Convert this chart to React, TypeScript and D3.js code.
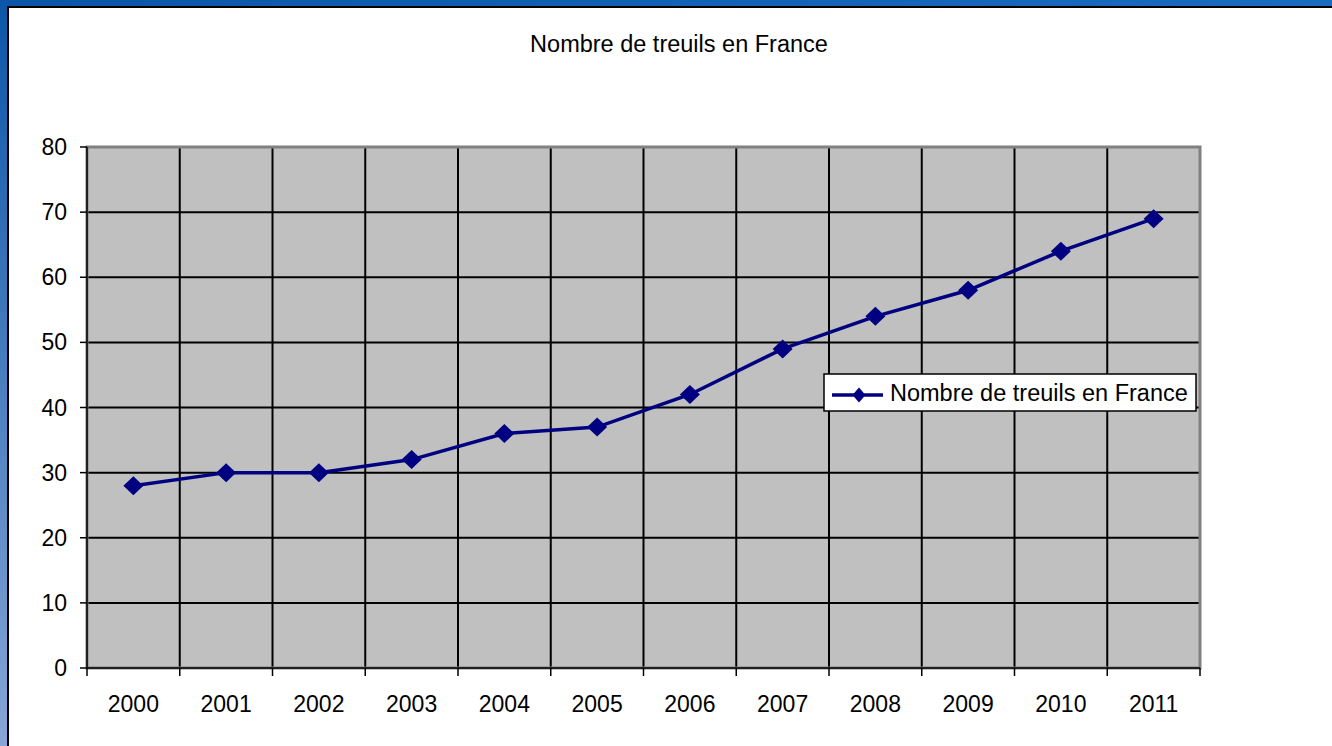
import React from "react";
import * as d3 from "d3";

const TITLE = "Nombre de treuils en France";
const SERIES_NAME = "Nombre de treuils en France";
const years = ["2000","2001","2002","2003","2004","2005","2006","2007","2008","2009","2010","2011"];
const values = [28, 30, 30, 32, 36, 37, 42, 49, 54, 58, 64, 69];
const yTicks = [0, 10, 20, 30, 40, 50, 60, 70, 80];

const W = 1332, H = 746;
const PL = 87, PR = 1200, PT = 147, PB = 668;
const FONT = "'Liberation Sans', Arial, sans-serif";

export default function App() {
  const x = d3.scaleBand().domain(years).range([PL, PR]).paddingInner(0).paddingOuter(0);
  const y = d3.scaleLinear().domain([0, 80]).range([PB, PT]);
  const cx = (d: string) => (x(d) as number) + x.bandwidth() / 2;
  const line = d3.line<number>().x((_, i) => cx(years[i])).y((v) => y(v));
  const boundaries = d3.range(years.length + 1).map((i) => PL + i * x.bandwidth());
  const diamond = (px: number, py: number, rx: number, ry: number) =>
    `M${px},${py - ry}L${px + rx},${py}L${px},${py + ry}L${px - rx},${py}Z`;

  return (
    <div style={{ position: "fixed", left: 0, top: 0, width: W, height: H }}>
      <svg width={W} height={H} style={{ display: "block" }}>
        <defs>
          <linearGradient id="leftg" x1="0" y1="0" x2="0" y2="1">
            <stop offset="0" stopColor="#0b56a8" />
            <stop offset="1" stopColor="#86a6d6" />
          </linearGradient>
          <linearGradient id="topg" x1="0" y1="0" x2="1" y2="0">
            <stop offset="0" stopColor="#0b55a6" />
            <stop offset="1" stopColor="#1a6cc0" />
          </linearGradient>
        </defs>
        <rect x={0} y={0} width={W} height={H} fill="#ffffff" />
        <rect x={0} y={0} width={W} height={6} fill="url(#topg)" />
        <rect x={0} y={0} width={7} height={H} fill="url(#leftg)" />
        <line x1={8} x2={W} y1={7} y2={7} stroke="#000" strokeWidth={2} />
        <line x1={8} x2={8} y1={6} y2={H} stroke="#000" strokeWidth={2} />

        <text x={679} y={52} textAnchor="middle" fontFamily={FONT} fontSize={23.5} fill="#000">{TITLE}</text>

        <rect x={PL} y={PT} width={PR - PL} height={PB - PT} fill="#c0c0c0" />
        {yTicks.filter((t) => t > 0 && t < 80).map((t) => (
          <line key={"h" + t} x1={PL} x2={PR} y1={y(t)} y2={y(t)} stroke="#000" strokeWidth={2} />
        ))}
        {boundaries.slice(1, -1).map((b, i) => (
          <line key={"v" + i} x1={b} x2={b} y1={PT} y2={PB} stroke="#000" strokeWidth={2} />
        ))}
        <rect x={PL} y={PT} width={PR - PL} height={PB - PT} fill="none" stroke="#808080" strokeWidth={3} />
        <line x1={PL} x2={PL} y1={PT} y2={PB} stroke="#000" strokeWidth={1.5} />
        <line x1={PL} x2={PR} y1={PB} y2={PB} stroke="#000" strokeWidth={1.5} />

        {yTicks.map((t) => (
          <g key={"yt" + t}>
            <line x1={PL - 7} x2={PL} y1={y(t)} y2={y(t)} stroke="#000" strokeWidth={1.5} />
            <text x={PL - 20} y={y(t) + 8} textAnchor="end" fontFamily={FONT} fontSize={23} fill="#000">{t}</text>
          </g>
        ))}
        {boundaries.map((b, i) => (
          <line key={"xt" + i} x1={b} x2={b} y1={PB} y2={PB + 8} stroke="#000" strokeWidth={1.5} />
        ))}
        {years.map((yr) => (
          <text key={"xl" + yr} x={cx(yr)} y={PB + 44} textAnchor="middle" fontFamily={FONT} fontSize={23} fill="#000">{yr}</text>
        ))}

        <path d={line(values) || ""} fill="none" stroke="#000080" strokeWidth={3.5} />
        {values.map((v, i) => (
          <path key={"m" + i} d={diamond(cx(years[i]), y(v), 10, 9.5)} fill="#000080" />
        ))}

        <rect x={824} y={374} width={372} height={37} fill="#ffffff" stroke="#000" strokeWidth={1.5} />
        <line x1={832} x2={883} y1={395} y2={395} stroke="#000080" strokeWidth={3.5} />
        <path d={diamond(859, 395, 6.5, 7.5)} fill="#000080" />
        <text x={890} y={401} fontFamily={FONT} fontSize={23.5} fill="#000">{SERIES_NAME}</text>
      </svg>
    </div>
  );
}
